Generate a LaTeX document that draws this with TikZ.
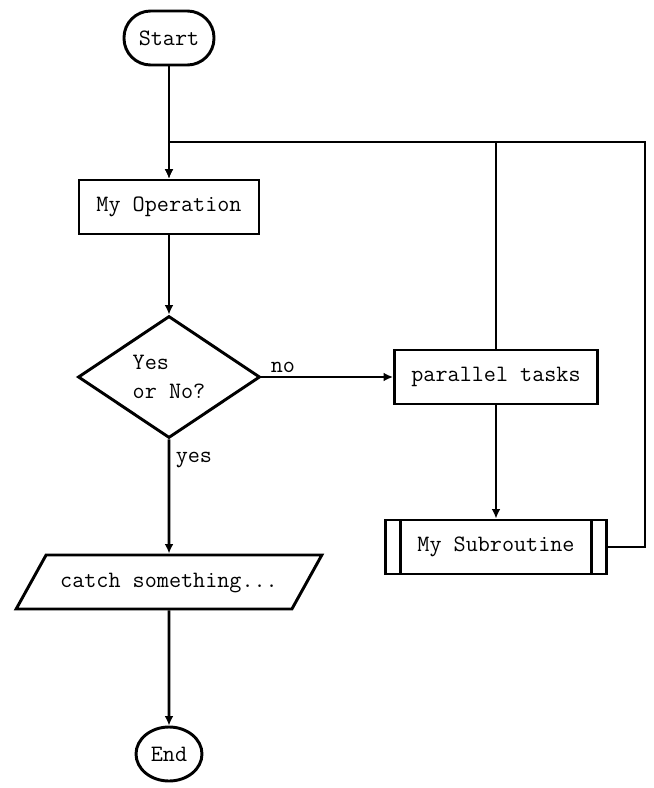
\documentclass[tikz,border=0pt]{standalone}
\usetikzlibrary{shapes.geometric, arrows.meta}
\tikzstyle{block}=[draw, line width=2.2pt, inner sep=0pt, minimum height=40.5pt]
\tikzstyle{terminal}=[block, rectangle, rounded corners=20pt, minimum width=67.5pt]
\tikzstyle{finish}=[block, ellipse, minimum width=49.5pt]
\tikzstyle{process}=[block, rectangle, minimum width=135pt]
\tikzstyle{decision}=[block, diamond, aspect=1.5, minimum width=136.5pt, minimum height=91.5pt, align=left]
\tikzstyle{io}=[block, trapezium, trapezium left angle=61, trapezium right angle=119, minimum height=0pt,
  text height=12pt, text depth=4pt, inner ysep=12.25pt, inner xsep=10.6pt]
\tikzstyle{subroutine}=[block, rectangle, minimum width=165.75pt,
  path picture={\draw[line width=2.2pt] ([xshift=11.25pt]path picture bounding box.north west) -- ([xshift=11.25pt]path picture bounding box.south west);
                \draw[line width=2.2pt] ([xshift=-11.25pt]path picture bounding box.north east) -- ([xshift=-11.25pt]path picture bounding box.south east);}]
\tikzstyle{flow}=[line width=2.2pt, -{Latex[length=7pt,width=6.5pt]}]
\tikzstyle{line}=[line width=2.2pt]

\begin{document}
\begin{tikzpicture}[x=0.75pt, y=-0.75pt, font=\ttfamily\fontsize{17.6}{21.5}\selectfont]
  \useasboundingbox (0,0) rectangle (653,788);

  %% Main column
  \draw (169,38) node[terminal] (start) {Start};
  \draw (169,207) node[process] (op) {My Operation};
  \draw (169,377) node[decision] (dec) {Yes\\or No?};
  \draw (169,582) node[io] (catch) {catch something...};
  \draw (169,754) node[finish] (end) {End};

  %% Right column
  \draw (496,377) node[process, minimum width=152.25pt] (par) {parallel tasks};
  \draw (496,547) node[subroutine] (sub) {My Subroutine};
  \coordinate (loop) at (645,142);

  \draw[flow] (start) -- (op);
  \draw[flow] (op) -- (dec);
  \draw[flow] (dec.east) -- node[pos=0.04, above right, inner sep=2pt] (no) {no} (par.west);
  \draw[flow] (dec.south) -- node[pos=0.05, below right, inner sep=4pt] (yes) {yes} (catch.north);
  \draw[flow] (catch) -- (end);
  \draw[flow] (par) -- (sub);

  %% Loop back
  \draw[flow] (sub.east) -| (loop) -| (op.north);
  \draw[line] (par.north) -- (par.north |- loop);
\end{tikzpicture}
\end{document}
